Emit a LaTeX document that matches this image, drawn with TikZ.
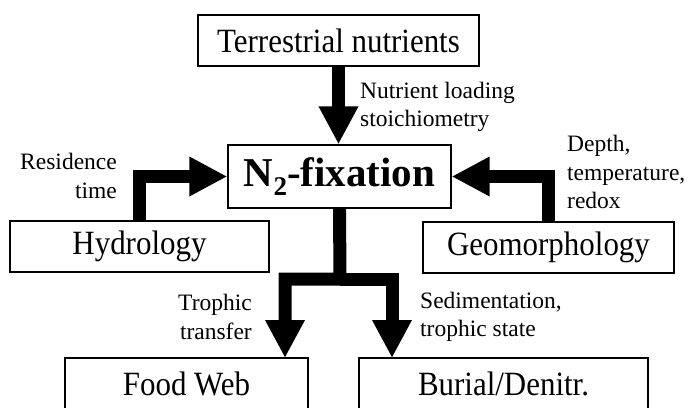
\documentclass[tikz,border=0pt]{standalone}
\usepackage{fontspec}
\setmainfont{Liberation Serif}
\newfontfamily\boxfont{Liberation Serif}[FakeStretch=0.91]
\usetikzlibrary{arrows.meta}

\begin{document}
\begin{tikzpicture}[x=1pt,y=-1pt,
    box/.style={draw, line width=1.3pt, rectangle, inner sep=0pt, minimum height=51pt,
      font=\boxfont\fontsize{34}{38}\selectfont},
    lbl/.style={inner sep=0pt, font=\fontsize{23.5}{28.5}\selectfont},
    fat/.style={line width=13pt, line join=miter, -{Triangle[width=37pt,length=38pt]}},
  ]
  \useasboundingbox (0,0) rectangle (690,407);

  \node (terr) [box, minimum width=281pt] at (338.5,40.5) {Terrestrial nutrients};
  \node (n2) [box, minimum width=223pt, minimum height=63pt, font=\fontsize{41}{46}\selectfont\bfseries]
    at (339.5,176.5) {N\raisebox{-9pt}{\fontsize{27}{27}\selectfont 2}-fixation};
  \node (hydro) [box, minimum width=259pt] at (139.5,246.5) {Hydrology};
  \node (geo) [box, minimum width=251pt] at (548.5,247.5) {Geomorphology};
  \node (food) [box, minimum width=243pt] at (186.5,383.5) {Food Web};
  \node (burial) [box, minimum width=289pt] at (503.5,383.5) {Burial/Denitr.};

  \coordinate (split) at (340,279);
  \coordinate (fwin) at (285,358);
  \coordinate (buin) at (392,358);

  \draw[fat] (terr.south) -- (terr.south |- n2.north);
  \draw[fat] (hydro.north) |- (n2.west);
  \draw[fat] (geo.north) |- (n2.east);
  \draw[fat] (n2.south) -- (split) -| (fwin);
  \draw[fat] (split) -| (buin);

  \node (load) [lbl, anchor=west, align=left] at (360,107) {Nutrient loading\\stoichiometry};
  \node (resid) [lbl, anchor=east, align=right] at (117,176) {Residence\\time};
  \node (depth) [lbl, anchor=west, align=left] at (567,172) {Depth,\\temperature,\\redox};
  \node (troph) [lbl, anchor=east, align=right] at (252,317) {Trophic\\transfer};
  \node (sedim) [lbl, anchor=west, align=left] at (420,317) {Sedimentation,\\trophic state};
\end{tikzpicture}
\end{document}
